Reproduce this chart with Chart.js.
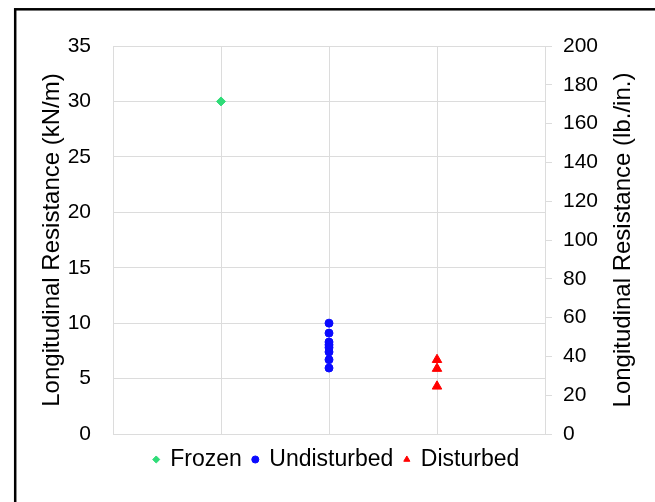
<!DOCTYPE html>
<html>
<head>
<meta charset="utf-8">
<script src="https://cdn.jsdelivr.net/npm/chart.js@4.4.0/dist/chart.umd.min.js"></script>
<style>
  html, body { margin: 0; padding: 0; background: #fff; }
  #wrap { width: 655px; height: 502px; }
</style>
</head>
<body>
<div id="wrap"><canvas id="graphResistance"></canvas></div>
<script>
var groups = ['Frozen', 'Undisturbed', 'Disturbed'];
var groupX = [1, 2, 3];
var frozenY = [30];
var undisturbedY = [10, 9.1, 8.3, 8.05, 7.8, 7.4, 6.7, 5.95];
var disturbedY = [6.7, 5.9, 4.3];

var leftTicks = { min: 0, max: 35, step: 5 };
var rightTicks = { min: 0, max: 200, step: 20 };
var leftTitle = 'Longitudinal Resistance (kN/m)';
var rightTitle = 'Longitudinal Resistance (lb./in.)';

function toPoints(x, ys) {
    return ys.map(function (y) { return { x: x, y: y }; });
}

var gridGrey = '#dcdcdc';
var family = 'Liberation Sans, Arial, sans-serif';
var tickFont = { family: family, size: 21 };
var titleFont = { family: family, size: 24 };
var legendFont = { family: family, size: 23 };

// black frame round the figure + right axis title reading bottom to top
var extrasPlugin = {
    id: 'extras',
    afterDraw: function (chart) {
        var ctx = chart.ctx;
        var area = chart.chartArea;
        ctx.save();
        ctx.strokeStyle = '#000';
        ctx.lineWidth = 2.5;
        ctx.strokeRect(15.2, 9.3, 700, 600);

        ctx.translate(623, (area.top + area.bottom) / 2);
        ctx.rotate(-Math.PI / 2);
        ctx.fillStyle = '#000';
        ctx.font = titleFont.size + 'px ' + family;
        ctx.textAlign = 'center';
        ctx.textBaseline = 'middle';
        ctx.fillText(rightTitle, 0, 0);
        ctx.restore();
    }
};

var graphResistance = document.getElementById('graphResistance').getContext('2d');
new Chart(graphResistance, {
    type: 'scatter',
    data: {
        datasets: [
            {
                label: groups[0],
                data: toPoints(groupX[0], frozenY),
                pointStyle: 'rectRot',
                pointRadius: 4.5,
                backgroundColor: '#2fdc78',
                borderColor: '#2fdc78',
                yAxisID: 'y'
            },
            {
                label: groups[1],
                data: toPoints(groupX[1], undisturbedY),
                pointStyle: 'circle',
                pointRadius: 4,
                backgroundColor: '#0a0aff',
                borderColor: '#0a0aff',
                yAxisID: 'y'
            },
            {
                label: groups[2],
                data: toPoints(groupX[2], disturbedY),
                pointStyle: 'triangle',
                pointRadius: 5.5,
                backgroundColor: '#ff0000',
                borderColor: '#ff0000',
                yAxisID: 'y'
            }
        ]
    },
    options: {
        responsive: true,
        maintainAspectRatio: false,
        animation: false,
        layout: {
            padding: { left: 34, right: 16, top: 46, bottom: 21 }
        },
        plugins: {
            tooltip: { enabled: false },
            legend: {
                display: true,
                position: 'bottom',
                labels: {
                    usePointStyle: true,
                    boxWidth: 5,
                    boxHeight: 5,
                    padding: 11,
                    color: '#000',
                    font: legendFont
                }
            }
        },
        scales: {
            x: {
                type: 'linear',
                min: 0,
                max: 4,
                ticks: { display: false, stepSize: 1 },
                grid: { color: gridGrey, drawTicks: false },
                border: { color: gridGrey },
                afterFit: function (scale) { scale.height = 3; }
            },
            y: {
                position: 'left',
                min: leftTicks.min,
                max: leftTicks.max,
                ticks: { stepSize: leftTicks.step, color: '#000', font: tickFont, padding: 22 },
                grid: { color: gridGrey, drawTicks: false },
                border: { color: gridGrey },
                title: {
                    display: true,
                    text: leftTitle,
                    color: '#000',
                    font: titleFont
                },
                afterFit: function (scale) { scale.width = 79; }
            },
            y2: {
                position: 'right',
                min: rightTicks.min,
                max: rightTicks.max,
                ticks: { stepSize: rightTicks.step, color: '#000', font: tickFont, padding: 11 },
                grid: { drawOnChartArea: false, color: gridGrey, tickLength: 7 },
                border: { color: gridGrey },
                afterFit: function (scale) { scale.width = 94; }
            }
        }
    },
    plugins: [extrasPlugin]
});
</script>
</body>
</html>
